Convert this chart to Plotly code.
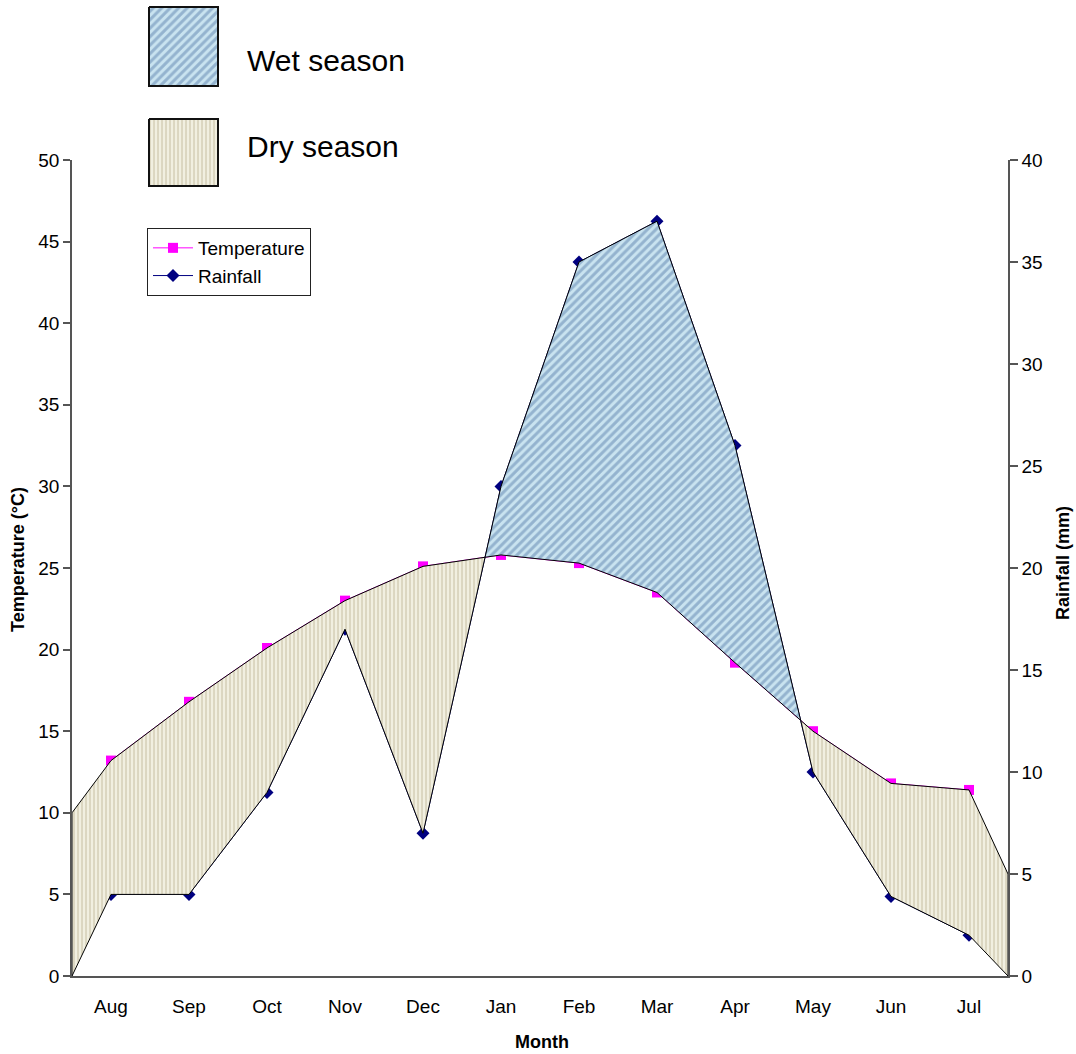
import plotly.graph_objects as go

# ---------------- data ----------------
months = ["Aug", "Sep", "Oct", "Nov", "Dec", "Jan", "Feb", "Mar", "Apr", "May", "Jun", "Jul"]
temperature = [13.2, 16.8, 20.1, 23.0, 25.1, 25.8, 25.3, 23.5, 19.2, 15.0, 11.8, 11.4]   # °C
rainfall = [4.0, 4.0, 9.0, 17.0, 7.0, 24.0, 35.0, 37.0, 26.0, 10.0, 3.9, 2.0]           # mm
# season-area boundary values at the left / right edge of the chart
temp_edges = [10.0, 6.25]
rain_edges = [0.0, 0.0]

T_MAX, R_MAX = 50, 40
scale = R_MAX / T_MAX  # temperature -> rainfall-axis units

# ---------------- style ----------------
FONT = "Liberation Sans, Arial, sans-serif"
AXIS_COL = "#555555"
W, H = 1076, 1054
x0px, x1px, ytop, ybot = 72, 1008, 160, 976

wet_pat = dict(shape="/", bgcolor="#c9e3f0", fgcolor="#5f84ad", size=6, solidity=0.5)
dry_pat = dict(shape="|", bgcolor="#f1efe0", fgcolor="#bab393", size=4, solidity=0.4)

xc = [i + 0.5 for i in range(len(months))]

# ---------------- season polygons (computed from data) ----------------
xs = [0.0] + xc + [float(len(months))]
Ts = [temp_edges[0] * scale] + [t * scale for t in temperature] + [temp_edges[1] * scale]
Rs = [rain_edges[0]] + rainfall + [rain_edges[1]]

px, pt, pr = [xs[0]], [Ts[0]], [Rs[0]]
for i in range(1, len(xs)):
    d0 = Ts[i - 1] - Rs[i - 1]
    d1 = Ts[i] - Rs[i]
    if d0 * d1 < 0:
        f = d0 / (d0 - d1)
        xm = xs[i - 1] + f * (xs[i] - xs[i - 1])
        vm = Ts[i - 1] + f * (Ts[i] - Ts[i - 1])
        px.append(xm); pt.append(vm); pr.append(vm)
    px.append(xs[i]); pt.append(Ts[i]); pr.append(Rs[i])

segments = []
cur_kind, cur = None, []
for j in range(len(px)):
    d = pt[j] - pr[j]
    kind = "dry" if d > 0 else ("wet" if d < 0 else None)
    if kind is None:
        cur.append(j)
        if cur_kind is not None:
            segments.append((cur_kind, cur))
        cur_kind, cur = None, [j]
        continue
    if cur_kind is None:
        cur_kind = kind
    cur.append(j)
if cur_kind is not None and len(cur) > 1:
    segments.append((cur_kind, cur))

fig = go.Figure()

fig.add_trace(go.Scatter(
    x=xc, y=temperature, name="Temperature", mode="lines+markers",
    line=dict(color="#ff00ff", width=1),
    marker=dict(symbol="square", size=10, color="#ff00ff"),
    xaxis="x", yaxis="y"))
fig.add_trace(go.Scatter(
    x=xc, y=rainfall, name="Rainfall", mode="lines+markers",
    line=dict(color="#000080", width=1),
    marker=dict(symbol="diamond", size=10, color="#000080"),
    xaxis="x", yaxis="y2"))

for kind, idx in segments:
    if kind == "dry":
        upper = [pt[j] for j in idx]
        lower = [pr[j] for j in idx]
    else:
        upper = [pr[j] for j in idx]
        lower = [pt[j] for j in idx]
    xx = [px[j] for j in idx]
    fig.add_trace(go.Scatter(
        x=xx + xx[::-1] + [xx[0]], y=upper + lower[::-1] + [upper[0]],
        mode="lines", fill="toself",
        fillpattern=wet_pat if kind == "wet" else dry_pat,
        fillcolor=wet_pat["bgcolor"] if kind == "wet" else dry_pat["bgcolor"],
        line=dict(color="black", width=1),
        showlegend=False, hoverinfo="skip",
        xaxis="x", yaxis="y2"))

for (yt, yb, pat) in [(7, 86, wet_pat), (119, 186, dry_pat)]:
    fig.add_trace(go.Scatter(
        x=[149, 218, 218, 149, 149], y=[yt, yt, yb, yb, yt],
        mode="lines", fill="toself", fillpattern=pat, fillcolor=pat["bgcolor"],
        line=dict(color="#111111", width=2),
        showlegend=False, hoverinfo="skip", xaxis="x3", yaxis="y3"))

fig.update_layout(
    width=W, height=H, autosize=False,
    margin=dict(l=0, r=0, t=0, b=0, autoexpand=False),
    paper_bgcolor="white", plot_bgcolor="rgba(0,0,0,0)",
    font=dict(family=FONT, size=19, color="black"),
    xaxis=dict(
        domain=[x0px / W, x1px / W], range=[0, len(months)],
        tickmode="array", tickvals=xc, ticktext=months, ticks="outside", ticklen=12,
        tickcolor="rgba(0,0,0,0)", showgrid=False, zeroline=False,
        showline=True, linecolor=AXIS_COL, linewidth=1.5, automargin=False,
        anchor="y"),
    xaxis2=dict(
        overlaying="x", matches="x", anchor="y", side="bottom",
        tickmode="array", tickvals=list(range(len(months) + 1)), ticktext=[""] * (len(months) + 1),
        ticks="outside", ticklen=7, tickcolor=AXIS_COL, tickwidth=1.5,
        showgrid=False, zeroline=False, showline=False, automargin=False),
    yaxis=dict(
        domain=[(H - ybot) / H, (H - ytop) / H], range=[0, T_MAX],
        tickmode="array", tickvals=list(range(0, T_MAX + 1, 5)), ticks="outside", ticklen=7,
        tickcolor=AXIS_COL, tickwidth=1.5, showgrid=False, zeroline=False,
        showline=True, linecolor=AXIS_COL, linewidth=1.5, automargin=False,
        anchor="x"),
    yaxis2=dict(
        overlaying="y", side="right", range=[0, R_MAX], anchor="x",
        tickmode="array", tickvals=list(range(0, R_MAX + 1, 5)), ticks="outside", ticklen=8,
        tickcolor=AXIS_COL, tickwidth=1.5, showgrid=False, zeroline=False,
        showline=True, linecolor=AXIS_COL, linewidth=1.5, automargin=False),
    xaxis3=dict(domain=[0, 1], range=[0, W], visible=False, anchor="y3", fixedrange=True),
    yaxis3=dict(domain=[0, 1], range=[H, 0], visible=False, anchor="x3", fixedrange=True),
    legend=dict(
        x=147 / W, y=1 - 228 / H, xanchor="left", yanchor="top",
        bgcolor="white", bordercolor="#222222", borderwidth=1,
        font=dict(family=FONT, size=19), tracegroupgap=0, itemwidth=40),
    showlegend=True,
    annotations=[
        dict(text="<b>Temperature (°C)</b>", x=18 / W, y=1 - 560 / H, xref="paper", yref="paper",
             xanchor="center", yanchor="middle",
             textangle=-90, showarrow=False, font=dict(size=18)),
        dict(text="<b>Rainfall (mm)</b>", x=1063 / W, y=1 - 563 / H, xref="paper", yref="paper",
             xanchor="center", yanchor="middle",
             textangle=-90, showarrow=False, font=dict(size=18)),
        dict(text="<b>Month</b>", x=542 / W, y=1 - 1042 / H, xref="paper", yref="paper",
             xanchor="center", yanchor="middle", showarrow=False, font=dict(size=18)),
        dict(text="Wet season", x=245 / W, y=1 - 61 / H, xref="paper", yref="paper",
             xanchor="left", yanchor="middle", showarrow=False, font=dict(size=30)),
        dict(text="Dry season", x=245 / W, y=1 - 146 / H, xref="paper", yref="paper",
             xanchor="left", yanchor="middle", showarrow=False, font=dict(size=30)),
    ],
)

fig.write_html("out.html")
